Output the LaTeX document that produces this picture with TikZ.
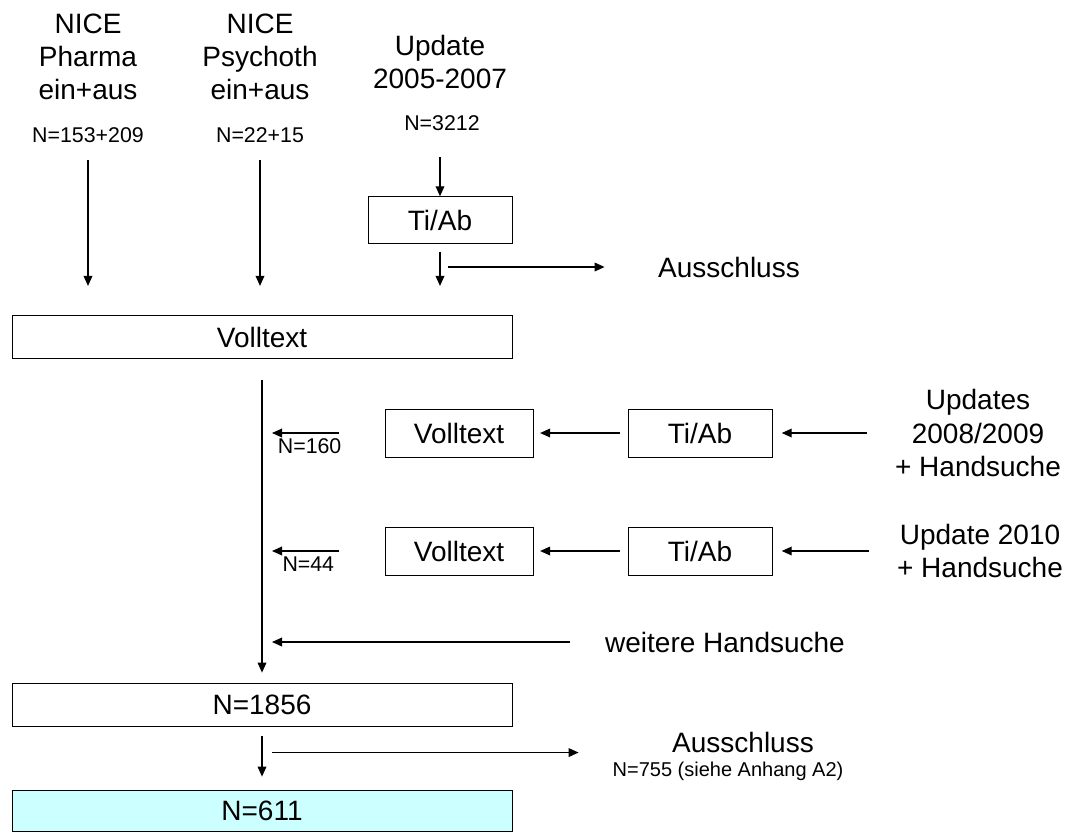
\documentclass[tikz,border=0pt]{standalone}
\usepackage{fontspec}
\setmainfont{Liberation Sans}
\usetikzlibrary{arrows.meta,positioning}
\definecolor{hellcyan}{RGB}{204,255,255}
\newcommand{\grosz}{\fontsize{21}{25}\selectfont}
\newcommand{\klein}{\fontsize{16}{19}\selectfont}
\newcommand{\winzig}{\fontsize{15}{18}\selectfont}

\begin{document}
\begin{tikzpicture}[x=0.75pt,y=-0.75pt,
box/.style={draw,rectangle,line width=0.6pt,inner sep=0pt,font=\grosz},
widebox/.style={box,minimum width=375pt,minimum height=32pt},
tibox/.style={box,minimum width=108pt,minimum height=36pt},
volbox/.style={box,minimum width=111pt,minimum height=36pt},
txt/.style={align=center,inner sep=0pt,font=\grosz},
ntxt/.style={inner sep=0pt,font=\klein},
arr/.style={-{Triangle[width=6.5pt,length=7.5pt]},line width=1pt}]
\useasboundingbox (0,0) rectangle (1066,832);

% Quellen oben
\node[txt] (pharma) at (88,57) {NICE\\Pharma\\ein+aus};
\node[ntxt] (npharma) at (88,135) {N=153+209};
\node[txt] (psych) at (260,57) {NICE\\Psychoth\\ein+aus};
\node[ntxt] (npsych) at (260,135) {N=22+15};
\node[txt] (upd) at (440,62) {Update\\2005-2007};
\node[ntxt] (nupd) at (442,123) {N=3212};
\node[tibox,minimum height=35pt] (tiab) at (440,220) {Ti/Ab};
\node[txt] (aus) at (729,267) {Ausschluss};
\node[widebox] (voll) at (262,337) {Volltext};

\draw[arr,shorten <=13pt,shorten >=22pt] (npharma.south) -- (npharma.south |- voll.north);
\draw[arr,shorten <=13pt,shorten >=22pt] (npsych.south) -- (npsych.south |- voll.north);
\draw[arr,shorten <=20pt] (tiab |- nupd.south) -- (tiab.north);
\draw[arr,shorten <=6pt,shorten >=22pt] (tiab.south) -- (tiab.south |- voll.north);
\draw[arr,shorten >=40pt] ([xshift=6pt]tiab.south |- aus.west) -- (aus.west);

% Updates
\node[volbox] (vollA) at (459,433) {Volltext};
\node[tibox] (tiabA) at (700,433) {Ti/Ab};
\node[txt] (updA) at (978,433) {Updates\\2008/2009\\+ Handsuche};
\node[volbox] (vollB) at (459,551) {Volltext};
\node[tibox] (tiabB) at (700,551) {Ti/Ab};
\node[txt] (updB) at (980,551) {Update 2010\\+ Handsuche};
\node[txt] (weiter) at (725,642) {weitere Handsuche};

\draw[arr] ([xshift=-21pt]updA.west) -- ([xshift=7pt]tiabA.east);
\draw[arr] ([xshift=-6pt]tiabA.west) -- ([xshift=5pt]vollA.east);
\draw[arr] ([xshift=-34pt]vollA.west) -- ([xshift=7.5pt]vollA.west -| voll.south)
  node[midway,below=4pt,xshift=3pt,ntxt] {N=160};
\draw[arr] ([xshift=-21pt]updB.west) -- ([xshift=7pt]tiabB.east);
\draw[arr] ([xshift=-6pt]tiabB.west) -- ([xshift=5pt]vollB.east);
\draw[arr] ([xshift=-34pt]vollB.west) -- ([xshift=7.5pt]vollB.west -| voll.south)
  node[midway,below=4pt,xshift=2pt,ntxt] {N=44};
\draw[arr] ([xshift=-26pt]weiter.west) -- ([xshift=7.5pt]weiter.west -| voll.south);

% Ergebnis
\node[widebox] (n1856) at (262,705) {N=1856};
\node[widebox,fill=hellcyan,minimum height=31pt] (n611) at (262,811) {N=611};
\node[txt] (aus2) at (743,742) {Ausschluss};
\node[ntxt,font=\winzig] (naus) at (728,771) {N=755 (siehe Anhang A2)};

\draw[arr,shorten <=16pt,shorten >=8pt] (voll.south) -- (n1856.north);
\draw[arr,shorten <=7pt,shorten >=10pt] (n1856) -- (n611);
\draw[arr,shorten >=70pt] ([xshift=7.5pt]n1856.south |- aus2.south) -- (aus2.south west);
\end{tikzpicture}
\end{document}
